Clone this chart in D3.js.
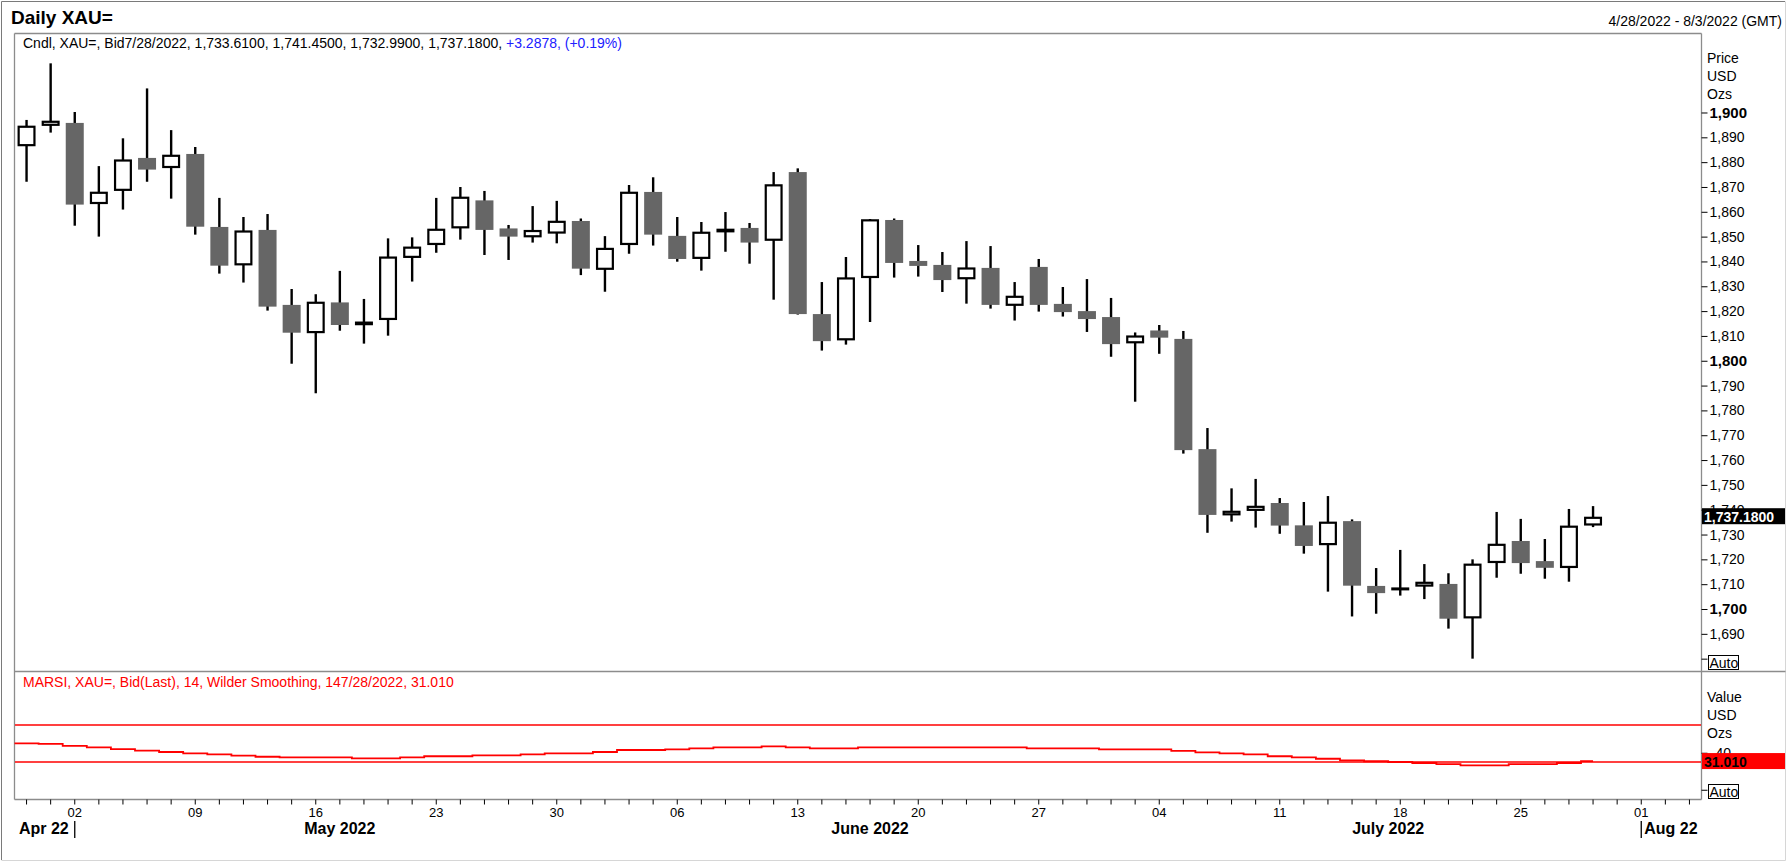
<!DOCTYPE html>
<html lang="en">
<head>
<meta charset="utf-8">
<title>Daily XAU=</title>
<script src="https://d3js.org/d3.v7.min.js"></script>
<style>
  body { margin: 0; background: #fff; }
  svg text { font-family: "Liberation Sans", Arial, sans-serif; }
</style>
</head>
<body>
<svg id="chart"></svg>
<script>

// trading days with a candle, then the empty days at the right end of the axis
const days = [
  "2022-04-28","2022-04-29",
  "2022-05-02","2022-05-03","2022-05-04","2022-05-05","2022-05-06",
  "2022-05-09","2022-05-10","2022-05-11","2022-05-12","2022-05-13",
  "2022-05-16","2022-05-17","2022-05-18","2022-05-19","2022-05-20",
  "2022-05-23","2022-05-24","2022-05-25","2022-05-26","2022-05-27",
  "2022-05-30","2022-05-31","2022-06-01","2022-06-02","2022-06-03",
  "2022-06-06","2022-06-07","2022-06-08","2022-06-09","2022-06-10",
  "2022-06-13","2022-06-14","2022-06-15","2022-06-16","2022-06-17",
  "2022-06-20","2022-06-21","2022-06-22","2022-06-23","2022-06-24",
  "2022-06-27","2022-06-28","2022-06-29","2022-06-30","2022-07-01",
  "2022-07-04","2022-07-05","2022-07-06","2022-07-07","2022-07-08",
  "2022-07-11","2022-07-12","2022-07-13","2022-07-14","2022-07-15",
  "2022-07-18","2022-07-19","2022-07-20","2022-07-21","2022-07-22",
  "2022-07-25","2022-07-26","2022-07-27","2022-07-28"];
const emptyDays = ["2022-07-29","2022-08-01","2022-08-02","2022-08-03"];

const open = [1886.4, 1894.6, 1895.8, 1863.1, 1868.4, 1881.7, 1877.6, 1883.3, 1853.9, 1838.4,
  1852.7, 1822.5, 1811.1, 1823.5, 1814.3, 1816.4, 1841.4, 1846.6, 1853.3, 1864.6,
  1853.3, 1849.7, 1851.2, 1856.3, 1836.6, 1846.6, 1868.0, 1850.3, 1841.0, 1851.7,
  1853.5, 1848.3, 1876.0, 1818.8, 1808.2, 1833.3, 1856.7, 1840.2, 1838.6, 1832.8,
  1837.4, 1822.1, 1837.8, 1822.9, 1820.0, 1817.6, 1807.0, 1812.2, 1808.8, 1764.4,
  1737.7, 1739.5, 1742.7, 1733.7, 1725.7, 1735.4, 1709.3, 1707.9, 1709.0, 1710.1,
  1696.2, 1718.5, 1727.4, 1719.3, 1716.5, 1733.61];
const high = [1897.0, 1919.8, 1900.2, 1878.4, 1889.6, 1909.7, 1892.9, 1886.1, 1865.6, 1857.9,
  1859.1, 1828.9, 1826.8, 1836.2, 1824.9, 1849.3, 1849.7, 1865.6, 1870.0, 1868.4,
  1854.7, 1862.3, 1864.4, 1857.3, 1850.2, 1870.8, 1873.9, 1857.9, 1855.9, 1859.9,
  1855.5, 1876.0, 1877.5, 1831.7, 1841.8, 1857.1, 1857.3, 1846.6, 1843.8, 1848.2,
  1846.2, 1831.7, 1841.0, 1829.7, 1832.9, 1825.3, 1811.4, 1814.4, 1812.0, 1772.9,
  1748.6, 1752.4, 1744.7, 1743.1, 1745.5, 1736.1, 1716.5, 1723.8, 1718.1, 1714.4,
  1720.0, 1739.1, 1736.3, 1728.2, 1740.3, 1741.45];
const low = [1872.1, 1891.9, 1854.4, 1850.0, 1860.9, 1872.1, 1865.3, 1850.8, 1835.1, 1831.5,
  1820.2, 1798.8, 1786.9, 1812.1, 1806.9, 1810.1, 1831.9, 1843.5, 1848.8, 1842.6,
  1840.6, 1847.6, 1847.3, 1834.5, 1827.8, 1843.1, 1846.4, 1839.9, 1836.3, 1843.9,
  1839.1, 1824.6, 1818.6, 1804.1, 1806.5, 1815.6, 1833.5, 1833.9, 1827.7, 1823.0,
  1821.0, 1816.2, 1819.8, 1817.8, 1811.6, 1801.6, 1783.5, 1802.8, 1762.6, 1730.7,
  1735.2, 1732.8, 1730.3, 1722.3, 1707.0, 1697.0, 1698.1, 1705.4, 1704.0, 1692.1,
  1680.0, 1712.6, 1714.2, 1712.2, 1711.0, 1732.99];
const close = [1894.7, 1896.7, 1862.9, 1868.1, 1881.1, 1877.0, 1883.0, 1854.0, 1838.3, 1852.5,
  1821.8, 1811.3, 1823.8, 1814.4, 1815.8, 1842.0, 1846.0, 1853.2, 1866.1, 1852.7,
  1850.0, 1852.7, 1856.4, 1837.1, 1845.5, 1868.1, 1850.8, 1841.0, 1852.0, 1853.2,
  1847.6, 1871.1, 1818.8, 1807.9, 1833.6, 1857.0, 1839.4, 1838.2, 1832.5, 1837.6,
  1822.5, 1826.2, 1822.5, 1819.6, 1816.8, 1806.7, 1810.2, 1809.3, 1764.0, 1737.9,
  1739.6, 1741.6, 1733.6, 1725.4, 1735.2, 1709.4, 1706.4, 1708.3, 1711.0, 1696.1,
  1718.3, 1726.3, 1718.5, 1716.6, 1733.6, 1737.18];

// MARSI 14, Wilder smoothing
const rsi = [50.2, 49.5, 47.5, 45.9, 43.9, 42.2, 40.8, 39.4, 38.3, 36.8,
  35.7, 35.1, 35.1, 35.1, 34.0, 34.0, 35.1, 36.2, 36.2, 37.2,
  37.2, 38.3, 39.4, 39.4, 40.8, 43.0, 43.0, 43.7, 44.8, 45.9,
  45.9, 47.0, 45.9, 44.8, 44.8, 45.9, 45.9, 45.9, 45.9, 45.9,
  45.9, 45.9, 44.8, 44.8, 44.8, 43.7, 43.7, 43.7, 42.0, 40.5,
  39.4, 38.3, 36.2, 35.1, 33.5, 31.8, 30.8, 30.0, 28.9, 27.8,
  26.4, 26.4, 27.8, 27.8, 28.9, 31.01];
const rsiBands = [70, 30];

const priceTicks = [1690, 1700, 1710, 1720, 1730, 1740, 1750, 1760, 1770, 1780, 1790,
  1800, 1810, 1820, 1830, 1840, 1850, 1860, 1870, 1880, 1890, 1900];
const boldTicks = [1700, 1800, 1900];
const rsiTicks = [40];

const monthLabels = ["Apr 22", "May 2022", "June 2022", "July 2022", "Aug 22"];
const monthStarts = ["2022-04-28", "2022-05-02", "2022-06-01", "2022-07-01", "2022-08-01"];

// layout
const W = 1788, H = 862;
const left = 14, right = 1701;
const priceTop = 33, priceBottom = 671, rsiBottom = 799;
const frameColor = "#8c8c8c";

const svg = d3.select("#chart")
    .attr("width", W)
    .attr("height", H);

svg.append("rect")
    .attr("width", W)
    .attr("height", H)
    .attr("fill", "#fff");

// scales
const x = d3.scaleBand()
    .domain(days.concat(emptyDays))
    .range([left + 0.5, right + 0.5])
    .padding(0);
const cx = d => x(d) + x.bandwidth() / 2;
const bodyW = 18;

const yPrice = d3.scaleLinear()
    .domain([1675.03, 1932.02])
    .range([priceBottom, priceTop]);

const yRsi = d3.scaleLinear()
    .domain([-10, 128.38])
    .range([rsiBottom, priceBottom]);

// outer frame
svg.append("path")
    .attr("d", `M1.5,860 V1.5 H1785`)
    .attr("fill", "none").attr("stroke", "#7a7a7a");
svg.append("path")
    .attr("d", `M1.5,860.5 H1785.5 V1.5`)
    .attr("fill", "none").attr("stroke", "#d6d6d6");

// titles
svg.append("text")
    .attr("x", 11).attr("y", 24)
    .style("font-size", "19px").style("font-weight", "bold")
    .text("Daily XAU=");

svg.append("text")
    .attr("x", 1782).attr("y", 26)
    .attr("text-anchor", "end")
    .style("font-size", "14px")
    .text("4/28/2022 - 8/3/2022 (GMT)");

// pane borders
const borders = [
  [left, priceTop, right, priceTop],
  [left, priceTop, left, rsiBottom],
  [right, priceTop, right, rsiBottom],
  [left, priceBottom, 1785, priceBottom],
  [left, rsiBottom, right, rsiBottom]
];
svg.append("g").selectAll("line")
  .data(borders)
  .join("line")
    .attr("x1", d => d[0] + 0.5).attr("y1", d => d[1] + 0.5)
    .attr("x2", d => d[2] + 0.5).attr("y2", d => d[3] + 0.5)
    .attr("stroke", frameColor)
    .attr("stroke-width", 1.3);

// price axis
const priceAxis = svg.append("g")
    .attr("transform", `translate(${right + 0.5},0)`)
    .call(d3.axisRight(yPrice)
      .tickValues(priceTicks.concat([1680]))
      .tickSize(6)
      .tickPadding(2)
      .tickFormat(d => d === 1680 ? "" : d3.format(",")(d)));
priceAxis.select(".domain").remove();
priceAxis.selectAll("line").attr("stroke", "#000");
priceAxis.selectAll("text")
    .attr("fill", "#000")
    .style("font-family", "'Liberation Sans', Arial, sans-serif")
    .style("font-size", d => boldTicks.includes(d) ? "15px" : "14px")
    .style("font-weight", d => boldTicks.includes(d) ? "bold" : "normal");

["Price", "USD", "Ozs"].forEach((t, i) => {
  svg.append("text")
      .attr("x", 1707).attr("y", 63 + i * 18)
      .style("font-size", "14px")
      .text(t);
});

// candles
const candles = days.map((d, i) => ({day: d, o: open[i], h: high[i], l: low[i], c: close[i]}));

const plot = svg.append("g").attr("id", "candles");

plot.selectAll("line.wick")
  .data(candles)
  .join("line")
    .attr("class", "wick")
    .attr("x1", d => cx(d.day)).attr("x2", d => cx(d.day))
    .attr("y1", d => yPrice(d.h)).attr("y2", d => yPrice(d.l))
    .attr("stroke", "#000")
    .attr("stroke-width", 2.4);

plot.selectAll("rect.down")
  .data(candles.filter(d => d.c < d.o))
  .join("rect")
    .attr("class", "down")
    .attr("x", d => cx(d.day) - bodyW / 2)
    .attr("width", bodyW)
    .attr("y", d => yPrice(d.o))
    .attr("height", d => Math.max(yPrice(d.c) - yPrice(d.o), 1.5))
    .attr("fill", "#666666");

const sw = 2.2;
const up = candles.filter(d => d.c >= d.o);
plot.selectAll("rect.up")
  .data(up)
  .join("rect")
    .attr("class", "up")
    .each(function(d) {
      const top = yPrice(d.c), bot = yPrice(d.o), h = bot - top;
      const r = d3.select(this);
      if (h < 2.5) {
        r.attr("x", cx(d.day) - bodyW / 2).attr("width", bodyW)
         .attr("y", (top + bot) / 2 - 1.5).attr("height", 3)
         .attr("fill", "#000");
      } else {
        r.attr("x", cx(d.day) - bodyW / 2 + sw / 2).attr("width", bodyW - sw)
         .attr("y", top + sw / 2).attr("height", h - sw)
         .attr("fill", "#fff").attr("stroke", "#000").attr("stroke-width", sw);
      }
    });

// header line of the price pane
const head = svg.append("text")
    .attr("x", 23).attr("y", 48)
    .style("font-size", "14px");
head.append("tspan").attr("fill", "#000")
    .text("Cndl, XAU=, Bid7/28/2022, 1,733.6100, 1,741.4500, 1,732.9900, 1,737.1800, ");
head.append("tspan").attr("fill", "#2020ff")
    .text("+3.2878, (+0.19%)");

// last price box
const last = candles[candles.length - 1];
svg.append("rect")
    .attr("x", right + 1).attr("y", yPrice(last.c) - 8.5)
    .attr("width", 83).attr("height", 16)
    .attr("fill", "#000");
svg.append("text")
    .attr("x", right + 3).attr("y", yPrice(last.c) + 5)
    .attr("fill", "#fff")
    .style("font-size", "14px").style("font-weight", "bold")
    .text(d3.format(",.4f")(last.c));

// Auto box, price pane
svg.append("rect")
    .attr("x", 1708.5).attr("y", 655.5)
    .attr("width", 30).attr("height", 14)
    .attr("fill", "#fff").attr("stroke", "#000");
svg.append("text")
    .attr("x", 1709.5).attr("y", 667.5)
    .style("font-size", "14px")
    .text("Auto");

// RSI pane
svg.append("text")
    .attr("x", 23).attr("y", 687)
    .attr("fill", "#ff0000")
    .style("font-size", "14px")
    .text("MARSI, XAU=, Bid(Last),  14, Wilder Smoothing, 147/28/2022, 31.010");

svg.append("g").selectAll("line")
  .data(rsiBands)
  .join("line")
    .attr("x1", left + 1).attr("x2", right)
    .attr("y1", d => yRsi(d)).attr("y2", d => yRsi(d))
    .attr("stroke", "#ff0000")
    .attr("stroke-width", 1.3);

const rsiPts = [];
days.forEach((d, i) => {
  rsiPts.push([x(d), rsi[i]]);
  rsiPts.push([i === days.length - 1 ? cx(d) : x(d) + x.bandwidth(), rsi[i]]);
});
svg.append("path")
    .datum(rsiPts)
    .attr("fill", "none")
    .attr("stroke", "#ff0000")
    .attr("stroke-width", 1.8)
    .attr("d", d3.line().x(p => p[0]).y(p => yRsi(p[1])));

const rsiAxis = svg.append("g")
    .attr("transform", `translate(${right + 0.5},0)`)
    .call(d3.axisRight(yRsi)
      .tickValues(rsiTicks.concat([0]))
      .tickSize(6)
      .tickPadding(8)
      .tickFormat(d => d === 0 ? "" : d));
rsiAxis.select(".domain").remove();
rsiAxis.selectAll("line").attr("stroke", "#000");
rsiAxis.selectAll("text")
    .attr("fill", "#000")
    .style("font-family", "'Liberation Sans', Arial, sans-serif")
    .style("font-size", "14px");

["Value", "USD", "Ozs"].forEach((t, i) => {
  svg.append("text")
      .attr("x", 1707).attr("y", 702 + i * 18)
      .style("font-size", "14px")
      .text(t);
});

const lastRsi = rsi[rsi.length - 1];
svg.append("rect")
    .attr("x", right + 1).attr("y", yRsi(lastRsi) - 8)
    .attr("width", 83).attr("height", 16)
    .attr("fill", "#ff0000");
svg.append("text")
    .attr("x", right + 3).attr("y", yRsi(lastRsi) + 5.5)
    .attr("fill", "#000")
    .style("font-size", "14px").style("font-weight", "bold")
    .text(d3.format(".3f")(lastRsi));

svg.append("rect")
    .attr("x", 1708.5).attr("y", 784.5)
    .attr("width", 30).attr("height", 14)
    .attr("fill", "#fff").attr("stroke", "#000");
svg.append("text")
    .attr("x", 1709.5).attr("y", 796.5)
    .style("font-size", "14px")
    .text("Auto");

// date axis
const parse = d3.timeParse("%Y-%m-%d");
const xAxis = svg.append("g")
    .attr("transform", `translate(0,${rsiBottom + 0.5})`)
    .call(d3.axisBottom(x)
      .tickSize(5)
      .tickPadding(3)
      .tickFormat(d => parse(d).getDay() === 1 ? d3.timeFormat("%d")(parse(d)) : ""));
xAxis.select(".domain").remove();
xAxis.selectAll("line").attr("stroke", "#000");
xAxis.selectAll("text")
    .attr("fill", "#000")
    .style("font-family", "'Liberation Sans', Arial, sans-serif")
    .style("font-size", "13px");

// month labels
const months = svg.append("g")
    .style("font-size", "16px")
    .style("font-weight", "bold");
monthLabels.forEach((m, i) => {
  const t = months.append("text").attr("y", 834).text(m);
  if (i === 0) {
    const sep = cx(monthStarts[1]);
    t.attr("x", sep - 6).attr("text-anchor", "end");
    months.append("line").attr("x1", sep).attr("x2", sep)
        .attr("y1", 821).attr("y2", 838).attr("stroke", "#000").attr("stroke-width", 1.3);
  } else if (i === monthLabels.length - 1) {
    const sep = cx(monthStarts[i]);
    t.attr("x", sep + 3).attr("text-anchor", "start");
    months.append("line").attr("x1", sep).attr("x2", sep)
        .attr("y1", 821).attr("y2", 838).attr("stroke", "#000").attr("stroke-width", 1.3);
  } else {
    t.attr("x", (cx(monthStarts[i]) + cx(monthStarts[i + 1])) / 2)
     .attr("text-anchor", "middle");
  }
});

</script>
</body>
</html>
